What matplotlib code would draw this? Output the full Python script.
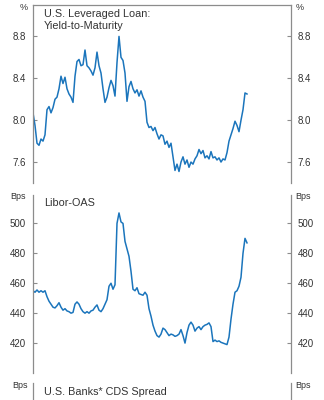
import matplotlib
matplotlib.use("Agg")
import matplotlib.pyplot as plt
import numpy as np

plt.rcParams['font.family'] = ['Liberation Sans', 'DejaVu Sans']

# U.S. Leveraged Loan yield-to-maturity (%)
ytm = [8.07, 7.95, 7.78, 7.76, 7.82, 7.80, 7.86, 8.10, 8.13, 8.07,
       8.12, 8.20, 8.22, 8.30, 8.42, 8.35, 8.41, 8.30, 8.25, 8.22,
       8.17, 8.42, 8.56, 8.58, 8.52, 8.53, 8.67, 8.52, 8.50, 8.47,
       8.43, 8.50, 8.65, 8.52, 8.45, 8.30, 8.17, 8.22, 8.31, 8.38,
       8.33, 8.23, 8.55, 8.80, 8.60, 8.57, 8.45, 8.18, 8.32, 8.37,
       8.30, 8.26, 8.29, 8.23, 8.28, 8.22, 8.18, 7.98, 7.93, 7.94,
       7.90, 7.93, 7.87, 7.82, 7.86, 7.85, 7.77, 7.80, 7.74, 7.78,
       7.65, 7.52, 7.58, 7.51, 7.60, 7.65, 7.58, 7.62, 7.55, 7.60,
       7.58, 7.63, 7.66, 7.72, 7.68, 7.71, 7.64, 7.66, 7.63, 7.70,
       7.64, 7.65, 7.62, 7.64, 7.60, 7.63, 7.62, 7.69, 7.80, 7.86,
       7.92, 7.99, 7.95, 7.89, 8.00, 8.10, 8.26, 8.25]

# Libor-OAS (bps)
oas = [455, 454, 455.5, 454, 455, 454, 455, 451, 448, 446,
       444, 443.5, 445, 447, 444, 442, 443, 441.5, 441, 440,
       440.5, 446, 447.5, 446, 443, 441, 440, 441, 440, 441.5,
       442, 444, 445.5, 442, 441, 443, 446, 449, 458, 460,
       456, 459, 500, 507, 501, 500, 488, 483, 478, 468,
       456, 455, 457, 453, 452.5, 452, 454, 452, 443, 438,
       432, 428, 425, 424, 426, 430, 429, 427, 425, 426,
       425.5, 424.5, 425, 426, 429, 425, 420, 427, 432, 434,
       432, 428, 430, 431, 429, 431, 432, 432.5, 433.5, 431,
       421, 422, 421, 421.5, 420.5, 420, 419.5, 419, 424, 436,
       446, 454, 455, 458, 464, 480, 490, 487]

ytm_ticks = [7.6, 8.0, 8.4, 8.8]
oas_ticks = [420, 440, 460, 480, 500]

x = np.arange(len(ytm))
XMAX = 129

W, H = 324, 400
fig = plt.figure(figsize=(W / 100, H / 100), dpi=100)

line_color = '#1b75bc'
spine_color = '#8c8c8c'
text_color = '#333333'

def px(xp, yp):
    return xp / W, 1 - yp / H

L, R = 33, 291

def make_ax(top, bottom):
    ax = fig.add_axes([L / W, 1 - bottom / H, (R - L) / W, (bottom - top) / H])
    ax.set_xlim(0, XMAX)
    ax.spines['bottom'].set_visible(False)
    for s in ['left', 'right', 'top']:
        ax.spines[s].set_color(spine_color)
        ax.spines[s].set_linewidth(0.9)
    ax.set_xticks([])
    ax.tick_params(axis='y', which='both', direction='in', length=3,
                   width=0.8, color=spine_color, labelsize=7,
                   labelcolor=text_color, left=True, right=True,
                   labelleft=True, labelright=True, pad=5)
    ax.set_facecolor('none')
    return ax

# Panel 1
ax1 = make_ax(5, 183)
ax1.plot(x, ytm, color=line_color, lw=1.1)
ax1.set_ylim(7.4, 9.1)
ax1.set_yticks(ytm_ticks)
ax1.set_yticklabels([f"{v:.1f}" for v in ytm_ticks])
ax1.text(0.043, 0.975, "U.S. Leveraged Loan:\nYield-to-Maturity",
         transform=ax1.transAxes, ha='left', va='top', fontsize=7.8,
         color=text_color, linespacing=1.2)

# Panel 2
ax2 = make_ax(195, 373)
ax2.spines['top'].set_visible(False)
ax2.plot(x, oas, color=line_color, lw=1.1)
ax2.set_ylim(400, 519)
ax2.set_yticks(oas_ticks)
ax2.set_yticklabels([str(v) for v in oas_ticks])
ax2.text(0.043, 0.985, "Libor-OAS", transform=ax2.transAxes,
         ha='left', va='top', fontsize=7.8, color=text_color)

# Panel 3 (mostly cut off)
ax3 = make_ax(383, 700)
ax3.spines['top'].set_visible(False)
ax3.set_yticks([])
ax3.set_ylim(0, 1)
ax3.text(0.043, 1 - 4 / 317, "U.S. Banks* CDS Spread", transform=ax3.transAxes,
         ha='left', va='top', fontsize=7.8, color=text_color)

# unit labels
fig.text(*px(28, 8), "%", ha='right', va='center', fontsize=6.5, color=text_color)
fig.text(*px(296, 8), "%", ha='left', va='center', fontsize=6.5, color=text_color)
fig.text(*px(26, 197), "Bps", ha='right', va='center', fontsize=6.5, color=text_color)
fig.text(*px(295, 197), "Bps", ha='left', va='center', fontsize=6.5, color=text_color)
fig.text(*px(28, 385), "Bps", ha='right', va='center', fontsize=6.5, color=text_color)
fig.text(*px(295, 385), "Bps", ha='left', va='center', fontsize=6.5, color=text_color)

fig.savefig("out.png", dpi=100)
